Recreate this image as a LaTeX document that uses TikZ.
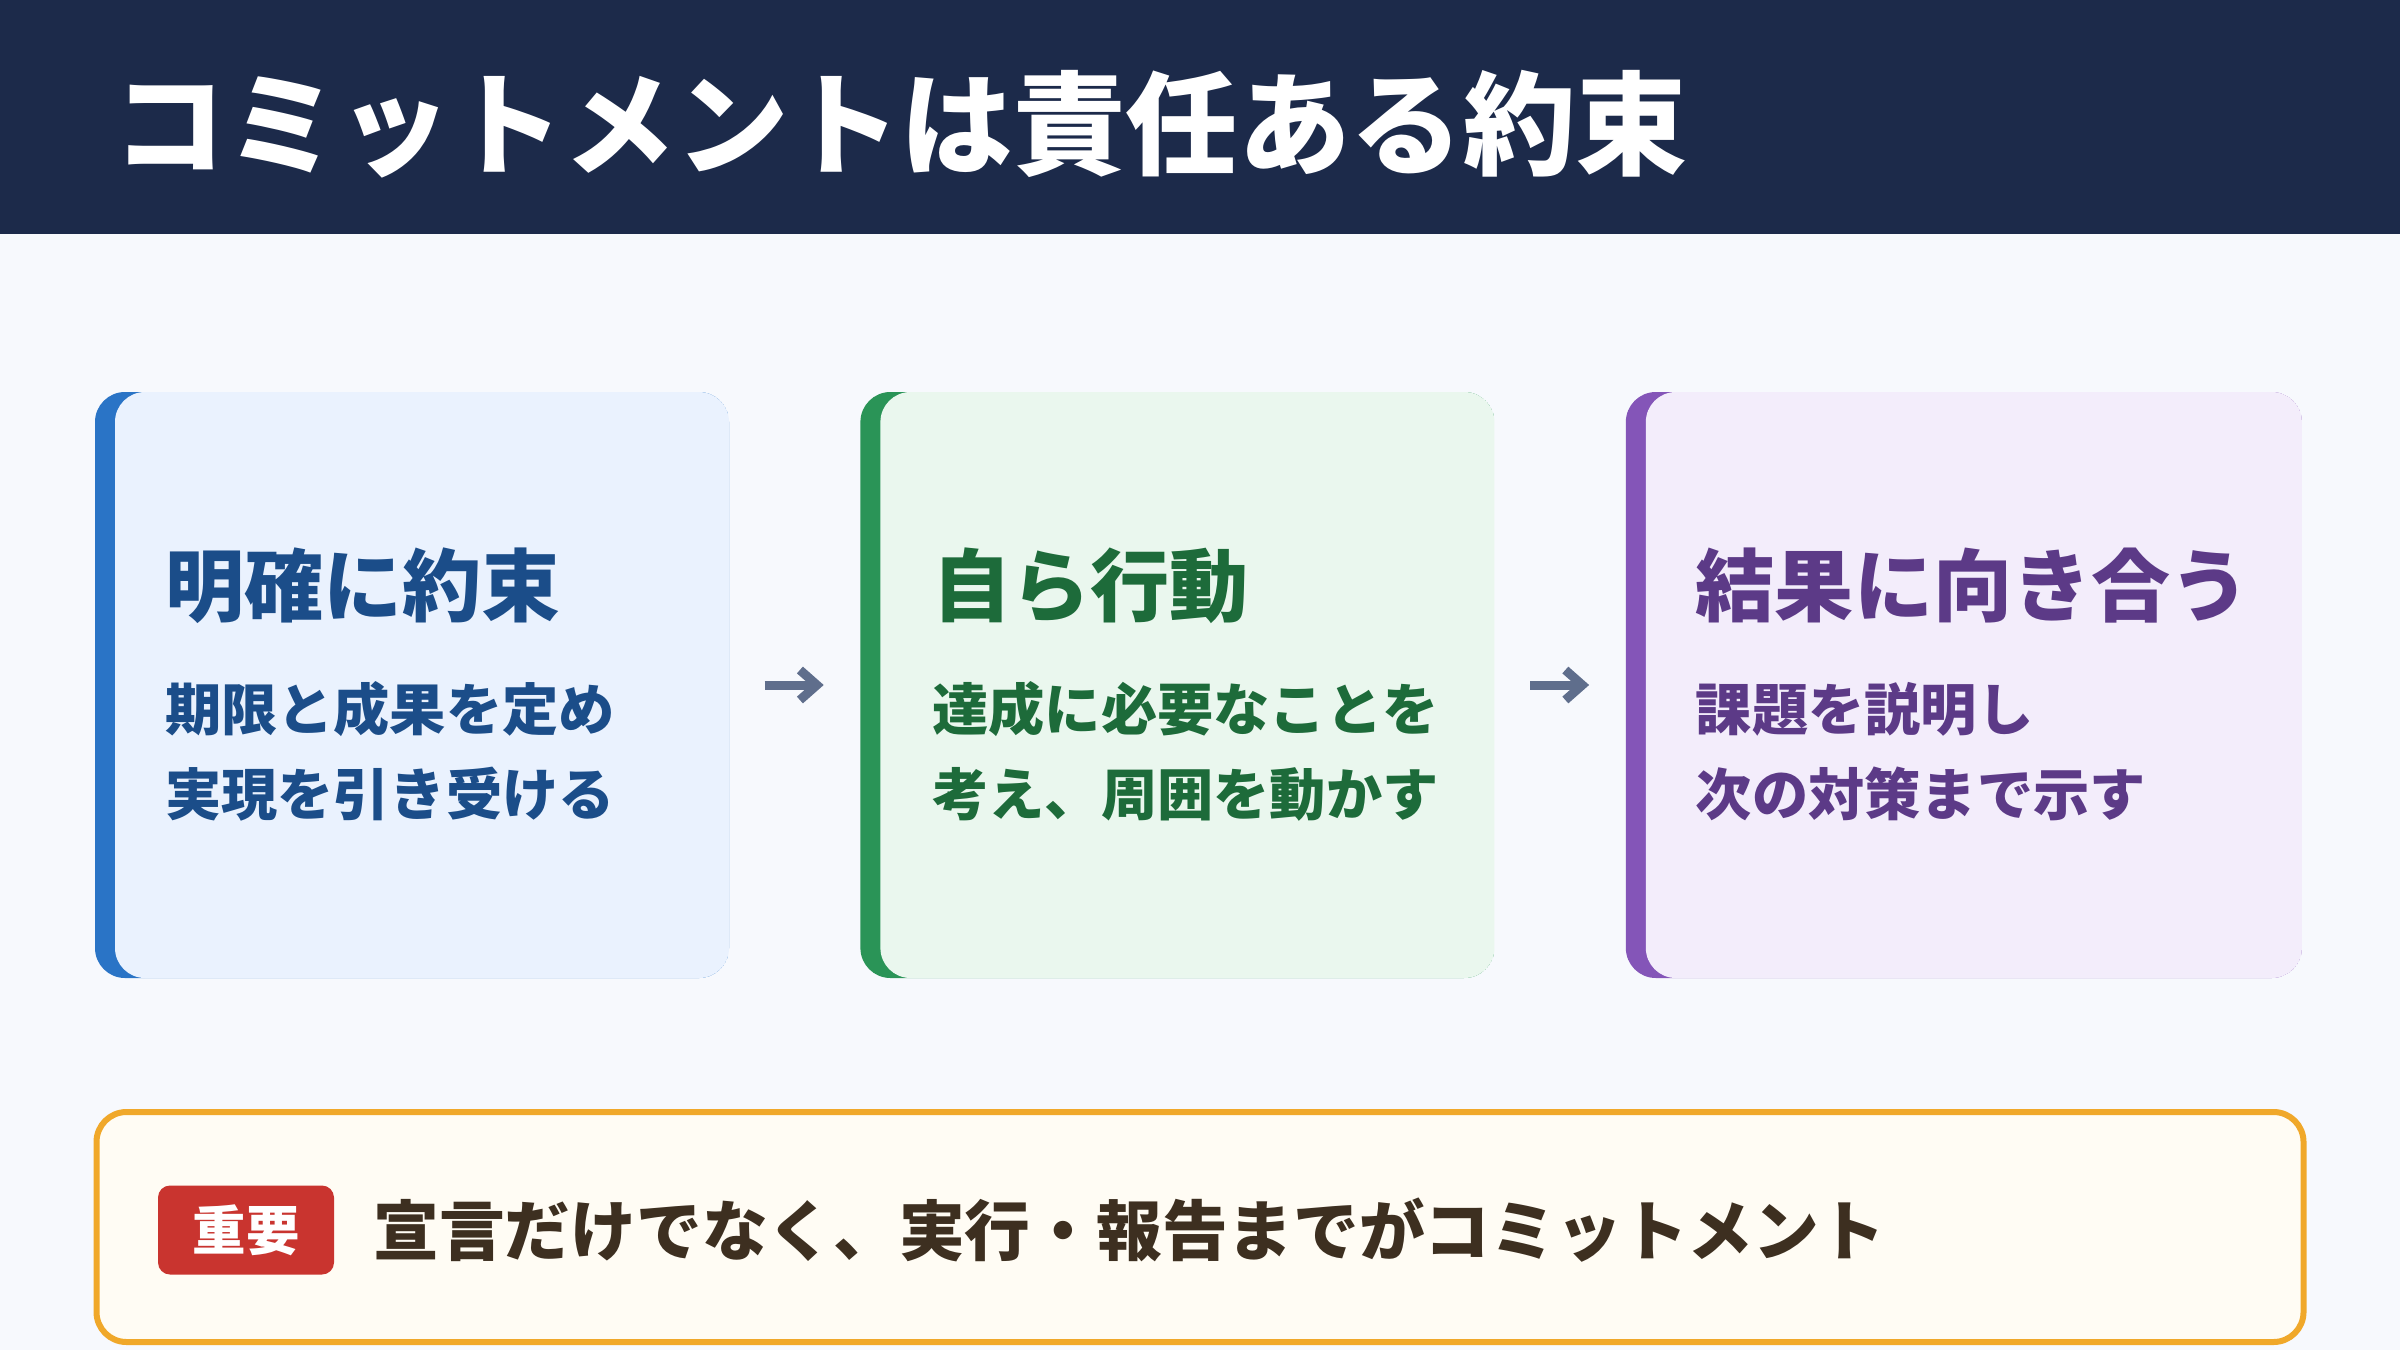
\documentclass[tikz,border=0pt]{standalone}
\usepackage{fontspec}
\setmainfont{Noto Sans CJK JP}
\usetikzlibrary{arrows.meta, positioning}

\definecolor{pagebg}{HTML}{F7F9FD}
\definecolor{headbg}{HTML}{1C2A4A}
\definecolor{blueacc}{HTML}{2A74C6}
\definecolor{bluefill}{HTML}{EAF2FE}
\definecolor{bluetext}{HTML}{1B4D89}
\definecolor{greenacc}{HTML}{2A9457}
\definecolor{greenfill}{HTML}{EAF7EE}
\definecolor{greentext}{HTML}{1D6B3A}
\definecolor{purpleacc}{HTML}{8455B8}
\definecolor{purplefill}{HTML}{F3EDFB}
\definecolor{purpletext}{HTML}{5C3A87}
\definecolor{arrowgray}{HTML}{5F6E8C}
\definecolor{notefill}{HTML}{FFFCF4}
\definecolor{noteborder}{HTML}{F0A82A}
\definecolor{notetext}{HTML}{3D2F20}
\definecolor{badgered}{HTML}{C9342F}

\begin{document}
\begin{tikzpicture}[
    node distance=1.30cm,
    card/.style n args={2}{rectangle, minimum width=6.34cm, minimum height=5.86cm,
        rounded corners=0.3cm, inner sep=0pt,
        path picture={
            \fill[#1] (path picture bounding box.south west) rectangle (path picture bounding box.north east);
            \fill[#2, rounded corners=0.3cm] ([xshift=0.2cm]path picture bounding box.south west)
                rectangle ([xshift=1cm]path picture bounding box.north east);
        }},
    cardtitle/.style={anchor=west, inner sep=0pt, font=\fontsize{22.5}{27}\selectfont\bfseries},
    cardbody/.style={anchor=west, inner sep=0pt, align=left, font=\fontsize{16}{24.1}\selectfont\bfseries},
    flow/.style={->, draw=arrowgray, line width=0.09cm},
    >={Straight Barb[length=0.17cm, width=0.3cm]}
]

% Page and header
\useasboundingbox (0,0) rectangle (24,13.5);
\fill[pagebg] (0,0) rectangle (24,13.5);
\fill[headbg] (0,11.16) rectangle (24,13.5);
\node[anchor=west, inner sep=0pt, text=white, font=\fontsize{32}{38}\selectfont\bfseries]
    (title) at (1.13,12.26) {コミットメントは責任ある約束};

% Cards
\node[card={blueacc}{bluefill}] (promise) at (4.12,6.65) {};
\node[card={greenacc}{greenfill}, right=of promise] (act) {};
\node[card={purpleacc}{purplefill}, right=of act, minimum width=6.76cm] (result) {};

\node[cardtitle, text=bluetext] (promiseT) at ([xshift=0.7cm, yshift=-1.94cm]promise.north west) {明確に約束};
\node[cardbody, text=bluetext] (promiseB) at ([xshift=0.7cm, yshift=-3.6cm]promise.north west)
    {期限と成果を定め\\実現を引き受ける};

\node[cardtitle, text=greentext] (actT) at ([xshift=0.72cm, yshift=-1.94cm]act.north west) {自ら行動};
\node[cardbody, text=greentext] (actB) at ([xshift=0.72cm, yshift=-3.6cm]act.north west)
    {達成に必要なことを\\考え、周囲を動かす};

\node[cardtitle, text=purpletext] (resultT) at ([xshift=0.7cm, yshift=-1.94cm]result.north west) {結果に向き合う};
\node[cardbody, text=purpletext] (resultB) at ([xshift=0.7cm, yshift=-3.6cm]result.north west)
    {課題を説明し\\次の対策まで示す};

% Arrows
\draw[flow] ([xshift=0.35cm]promise.east) -- ([xshift=-0.36cm]act.west);
\draw[flow] ([xshift=0.35cm]act.east) -- ([xshift=-0.36cm]result.west);

% Note
\node[draw=noteborder, line width=0.06cm, fill=notefill, rounded corners=0.3cm,
    minimum width=22.07cm, minimum height=2.3cm] (note) at (12.0,1.23) {};
\node[fill=badgered, rounded corners=0.12cm, minimum width=1.76cm, minimum height=0.89cm,
    text=white, font=\fontsize{15.2}{18}\selectfont\bfseries] (badge) at (2.46,1.2) {重要};
\node[right=0.38cm of badge, inner sep=0pt, text=notetext, font=\fontsize{18.7}{22}\selectfont\bfseries]
    (message) {宣言だけでなく、実行・報告までがコミットメント};

\end{tikzpicture}
\end{document}
